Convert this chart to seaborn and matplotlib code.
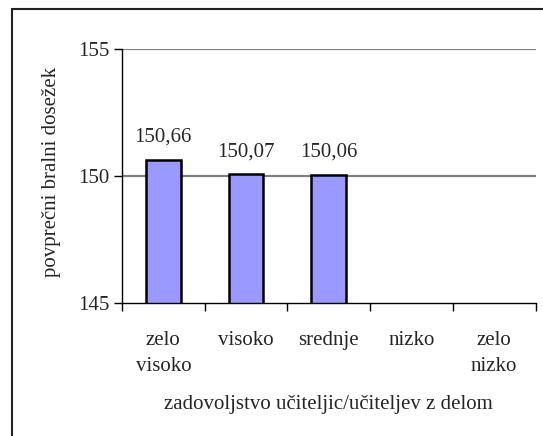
import numpy as np
import pandas as pd
import seaborn as sns
import matplotlib.pyplot as plt
from matplotlib.patches import Rectangle

# data
categories = ['zelo\nvisoko', 'visoko', 'srednje', 'nizko', 'zelo\nnizko']
values = [150.66, 150.07, 150.06, np.nan, np.nan]
value_labels = ['150,66', '150,07', '150,06', '', '']

df = pd.DataFrame({'kat': categories, 'vrednost': values})

sns.set_style('white')
plt.rcParams['font.family'] = ['Liberation Serif', 'DejaVu Serif']
FS = 15

W, H = 543, 436
fig = plt.figure(figsize=(W/100, H/100), dpi=100)
ax = fig.add_axes([122/W, 1-303/H, (535.5-122)/W, (303-49.5)/H])

sns.barplot(data=df, x='kat', y='vrednost', order=categories, color='#9999FF',
            saturation=1, width=0.42, edgecolor='black', linewidth=1.8, ax=ax)

ax.set_ylim(145, 155)
ax.set_yticks([145, 150, 155])
ax.set_xlim(-0.5, 4.5)
for y in [150, 155]:
    ax.axhline(y, color='#808080', lw=1.6, zorder=0)

# data labels
for i, (v, lab) in enumerate(zip(values, value_labels)):
    if lab:
        ax.text(i, v + 0.72, lab, ha='center', va='baseline', fontsize=FS)

# ticks between categories
ax.set_xticks(np.arange(5))
ax.set_xticklabels(categories, fontsize=FS, linespacing=1.55)
ax.set_xticks(np.arange(-0.5, 5, 1), minor=True)
ax.tick_params(axis='x', which='major', length=0, pad=20)
ax.tick_params(axis='x', which='minor', length=6, width=1, color='black', direction='out')
ax.tick_params(axis='y', length=6, width=1, color='black', direction='out', labelsize=FS, pad=3)
ax.xaxis.set_ticks_position('bottom')
ax.yaxis.set_ticks_position('left')

for s in ['top', 'right']:
    ax.spines[s].set_visible(False)
for s in ['left', 'bottom']:
    ax.spines[s].set_color('black')
    ax.spines[s].set_linewidth(1)

ax.set_xlabel('')
ax.set_ylabel('')
fig.text(328.5/W, 1-404/H, 'zadovoljstvo učiteljic/učiteljev z delom', fontsize=FS,
         ha='center', va='center')
fig.text(52/W, 1-172/H, 'povprečni bralni dosežek', fontsize=FS, rotation=90,
         ha='center', va='center')

# outer chart frame
fig.add_artist(Rectangle((11.5/W, -0.1), 1.0, 1.1 - 9.5/H, transform=fig.transFigure,
                         fill=False, edgecolor='#222222', lw=1.5))

fig.savefig('out.png', dpi=100)
